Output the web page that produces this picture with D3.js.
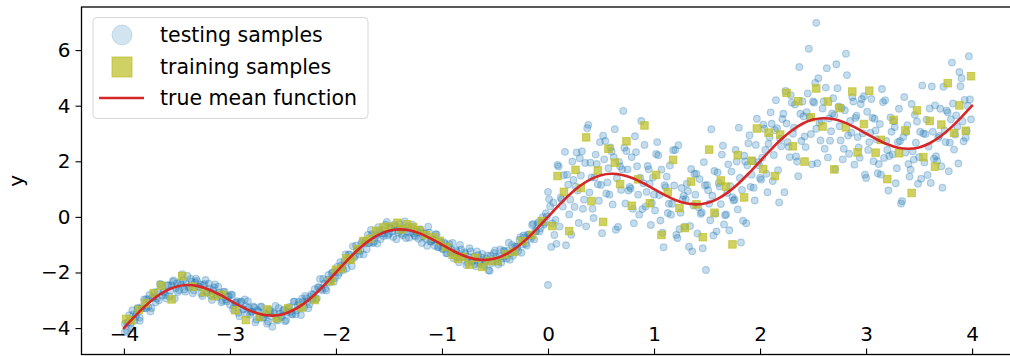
<!DOCTYPE html>
<html>
<head>
<meta charset="utf-8">
<script src="https://cdn.jsdelivr.net/npm/d3@7"></script>
<style>
  body { margin: 0; background: #fff; }
  svg { display: block; font-family: "DejaVu Sans", sans-serif; }
</style>
</head>
<body>
<div class="chart"></div>
<script>
// true mean function, every 0.1
var meanX = [-4.0,-3.9,-3.8,-3.7,-3.6,-3.5,-3.4,-3.3,-3.2,-3.1,-3.0,-2.9,-2.8,-2.7,-2.6,-2.5,-2.4,-2.3,-2.2,-2.1,
  -2.0,-1.9,-1.8,-1.7,-1.6,-1.5,-1.4,-1.3,-1.2,-1.1,-1.0,-0.9,-0.8,-0.7,-0.6,-0.5,-0.4,-0.3,-0.2,-0.1,
  0.0,0.1,0.2,0.3,0.4,0.5,0.6,0.7,0.8,0.9,1.0,1.1,1.2,1.3,1.4,1.5,1.6,1.7,1.8,1.9,
  2.0,2.1,2.2,2.3,2.4,2.5,2.6,2.7,2.8,2.9,3.0,3.1,3.2,3.3,3.4,3.5,3.6,3.7,3.8,3.9,4.0];
var meanY = [-4.00,-3.59,-3.21,-2.89,-2.65,-2.50,-2.45,-2.49,-2.61,-2.79,-3.00,-3.21,-3.39,-3.51,-3.55,-3.50,-3.35,-3.11,-2.79,-2.41,
  -2.00,-1.59,-1.21,-0.89,-0.65,-0.50,-0.45,-0.49,-0.61,-0.79,-1.00,-1.21,-1.39,-1.51,-1.55,-1.50,-1.35,-1.11,-0.79,-0.41,
  0.00,0.41,0.79,1.11,1.35,1.50,1.55,1.51,1.39,1.21,1.00,0.79,0.61,0.49,0.45,0.50,0.65,0.89,1.21,1.59,
  2.00,2.41,2.79,3.11,3.35,3.50,3.55,3.51,3.39,3.21,3.00,2.79,2.61,2.49,2.45,2.50,2.65,2.89,3.21,3.59,4.00];

// testing samples [x, y], left half (tight band)
var testingLeft = [
  [-3.99,-3.84],[-3.97,-4.09],[-3.96,-3.79],[-3.94,-3.84],[-3.92,-3.36],[-3.90,-3.74],[-3.88,-3.49],[-3.87,-3.29],[-3.85,-3.74],[-3.83,-3.24],
  [-3.81,-3.29],[-3.79,-2.96],[-3.77,-3.23],[-3.76,-2.81],[-3.74,-3.28],[-3.72,-2.88],[-3.70,-3.07],[-3.68,-2.70],[-3.66,-2.41],[-3.64,-2.83],
  [-3.62,-2.69],[-3.60,-2.94],[-3.58,-2.46],[-3.56,-2.65],[-3.54,-2.32],[-3.52,-2.94],[-3.50,-2.39],[-3.48,-2.63],[-3.46,-2.44],[-3.44,-2.28],
  [-3.42,-2.69],[-3.40,-2.12],[-3.38,-2.52],[-3.36,-2.33],[-3.34,-2.64],[-3.32,-2.22],[-3.30,-2.51],[-3.28,-2.43],[-3.26,-2.85],[-3.24,-2.41],
  [-3.22,-2.69],[-3.20,-2.40],[-3.18,-2.83],[-3.16,-2.65],[-3.14,-2.43],[-3.12,-2.88],[-3.10,-2.73],[-3.08,-3.07],[-3.06,-2.70],[-3.04,-2.97],
  [-3.02,-2.86],[-3.00,-3.16],[-2.98,-2.81],[-2.96,-3.20],[-2.94,-3.08],[-2.92,-3.45],[-2.90,-3.07],[-2.88,-3.31],[-2.86,-2.97],[-2.84,-3.50],
  [-2.82,-3.27],[-2.80,-3.41],[-2.78,-3.22],[-2.76,-3.79],[-2.74,-3.36],[-2.72,-3.62],[-2.70,-3.24],[-2.68,-3.60],[-2.66,-3.49],[-2.64,-3.76],
  [-2.62,-3.39],[-2.60,-3.95],[-2.58,-3.48],[-2.56,-3.69],[-2.54,-3.28],[-2.52,-3.56],[-2.50,-3.37],[-2.48,-3.75],[-2.46,-3.43],[-2.44,-3.24],
  [-2.42,-3.49],[-2.40,-3.05],[-2.38,-3.50],[-2.36,-3.18],[-2.34,-3.27],[-2.32,-2.94],[-2.30,-3.25],[-2.28,-2.93],[-2.26,-3.29],[-2.24,-2.87],
  [-2.22,-2.95],[-2.20,-2.60],[-2.18,-2.93],[-2.16,-2.54],[-2.14,-2.59],[-2.12,-2.23],[-2.10,-2.58],[-2.08,-2.26],[-2.06,-2.36],[-2.04,-2.02],
  [-2.02,-2.33],[-2.00,-1.96],[-1.98,-2.10],[-1.96,-1.63],[-1.94,-1.81],[-1.92,-1.58],[-1.90,-1.86],[-1.88,-1.35],[-1.86,-1.52],[-1.84,-1.06],
  [-1.82,-1.41],[-1.80,-1.18],[-1.78,-1.35],[-1.76,-0.95],[-1.74,-1.35],[-1.72,-0.89],[-1.70,-0.65],[-1.68,-0.93],[-1.66,-0.62],[-1.64,-0.89],
  [-1.62,-0.68],[-1.60,-0.37],[-1.58,-0.80],[-1.56,-0.49],[-1.54,-0.60],[-1.52,-0.18],[-1.50,-0.61],[-1.48,-0.42],[-1.46,-0.72],[-1.44,-0.33],
  [-1.42,-0.48],[-1.40,-0.25],[-1.38,-0.61],[-1.36,-0.41],[-1.34,-0.76],[-1.32,-0.37],[-1.30,-0.56],[-1.28,-0.28],[-1.26,-0.67],[-1.24,-0.52],
  [-1.22,-0.79],[-1.20,-0.45],[-1.18,-0.70],[-1.16,-0.59],[-1.14,-1.04],[-1.12,-0.57],[-1.10,-0.89],[-1.08,-0.82],[-1.06,-0.62],[-1.04,-1.09],
  [-1.02,-0.88],[-1.00,-1.14],[-0.98,-0.92],[-0.96,-1.31],[-0.94,-1.07],[-0.92,-1.26],[-0.90,-0.94],[-0.88,-1.40],[-0.86,-1.26],[-0.84,-1.63],
  [-0.82,-1.17],[-0.80,-1.44],[-0.78,-1.32],[-0.76,-1.64],[-0.74,-1.13],[-0.72,-1.61],[-0.70,-1.44],[-0.68,-1.78],[-0.66,-1.38],[-0.64,-1.57],
  [-0.62,-1.33],[-0.60,-1.72],[-0.58,-1.50],[-0.56,-1.92],[-0.54,-1.40],[-0.52,-1.60],[-0.50,-1.21],[-0.48,-1.61],[-0.46,-1.43],[-0.44,-1.64],
  [-0.42,-1.22],[-0.40,-1.41],[-0.38,-1.22],[-0.36,-1.54],[-0.34,-1.01],[-0.32,-1.26],[-0.30,-1.07],[-0.28,-1.23],[-0.26,-0.73],[-0.24,-0.99],
  [-0.22,-0.74],[-0.20,-1.03],[-0.18,-0.64],[-0.16,-0.78],[-0.14,-0.25],[-0.12,-0.51],[-0.10,-0.26],[-0.08,-0.53],[-0.06,-0.19],[-0.04,-0.28],
  [-0.02,0.13],
  [-3.99,-4.14],[-3.97,-3.81],[-3.95,-3.54],[-3.93,-4.02],[-3.91,-3.51],[-3.89,-3.59],[-3.87,-3.28],[-3.85,-3.62],[-3.83,-3.29],[-3.81,-2.97],
  [-3.79,-3.29],[-3.77,-2.96],[-3.75,-3.40],[-3.73,-2.92],[-3.71,-2.71],[-3.69,-2.94],[-3.67,-3.00],[-3.65,-2.43],[-3.63,-2.70],[-3.61,-2.81],
  [-3.59,-2.46],[-3.57,-2.86],[-3.55,-2.47],[-3.53,-2.29],[-3.51,-2.56],[-3.49,-2.70],[-3.47,-2.34],[-3.45,-2.06],[-3.43,-2.61],[-3.41,-2.41],
  [-3.39,-2.54],[-3.37,-2.23],[-3.35,-2.75],[-3.33,-2.36],[-3.31,-2.30],[-3.29,-2.52],[-3.27,-2.76],[-3.25,-2.46],[-3.23,-2.27],[-3.21,-2.73],
  [-3.19,-2.58],[-3.17,-2.99],[-3.15,-2.54],[-3.13,-2.80],[-3.11,-2.51],[-3.09,-2.81],[-3.07,-3.02],[-3.05,-2.69],[-3.03,-3.04],[-3.01,-2.84],
  [-2.99,-2.79],[-2.97,-3.32],[-2.95,-3.09],[-2.93,-3.03],[-2.91,-3.57],[-2.89,-3.04],[-2.87,-3.33],[-2.85,-3.21],[-2.83,-3.03],[-2.81,-3.52],
  [-2.79,-3.41],[-2.77,-3.26],[-2.75,-3.69],[-2.73,-3.41],[-2.71,-3.23],[-2.69,-3.64],[-2.67,-3.49],[-2.65,-3.84],[-2.63,-3.34],[-2.61,-3.58],
  [-2.59,-3.45],[-2.57,-3.20],[-2.55,-3.73],[-2.53,-3.47],[-2.51,-3.60],[-2.49,-3.33],[-2.47,-3.72],[-2.45,-3.31],[-2.43,-3.41],[-2.41,-3.51],
  [-2.39,-3.04],[-2.37,-3.36],[-2.35,-3.06],[-2.33,-3.53],[-2.31,-3.06],[-2.29,-2.84],[-2.27,-3.04],[-2.25,-3.14],[-2.23,-2.78],[-2.21,-2.79],
  [-2.19,-2.97],[-2.17,-2.53],[-2.15,-2.23],[-2.13,-2.64],[-2.11,-2.40],[-2.09,-2.65],[-2.07,-2.09],[-2.05,-2.25],[-2.03,-2.00],[-2.01,-2.20],
  [-1.99,-1.80],[-1.97,-2.00],[-1.95,-1.75],[-1.93,-1.91],[-1.91,-1.35],[-1.89,-1.60],[-1.87,-1.36],[-1.85,-1.77],[-1.83,-1.47],[-1.81,-1.03],
  [-1.79,-1.21],[-1.77,-1.22],[-1.75,-0.86],[-1.73,-0.96],[-1.71,-1.16],[-1.69,-0.94],[-1.67,-0.47],[-1.65,-0.94],[-1.63,-0.64],[-1.61,-0.96],
  [-1.59,-0.49],[-1.57,-0.59],[-1.55,-0.69],[-1.53,-0.28],[-1.51,-0.67],[-1.49,-0.40],[-1.47,-0.53],[-1.45,-0.27],[-1.43,-0.80],[-1.41,-0.55],
  [-1.39,-0.42],[-1.37,-0.66],[-1.35,-0.16],[-1.33,-0.51],[-1.31,-0.75],[-1.29,-0.38],[-1.27,-0.59],[-1.25,-0.71],[-1.23,-0.56],[-1.21,-0.45],
  [-1.19,-0.94],[-1.17,-0.60],[-1.15,-0.79],[-1.13,-0.35],[-1.11,-0.89],[-1.09,-0.83],[-1.07,-1.04],[-1.05,-0.63],[-1.03,-1.08],[-1.01,-0.90],
  [-0.99,-1.16],[-0.97,-0.96],[-0.95,-1.31],[-0.93,-0.98],[-0.91,-1.19],[-0.89,-1.49],[-0.87,-1.20],[-0.85,-1.46],[-0.83,-1.01],[-0.81,-1.42],
  [-0.79,-1.27],[-0.77,-1.73],[-0.75,-1.44],[-0.73,-1.24],[-0.71,-1.58],[-0.69,-1.70],[-0.67,-1.24],[-0.65,-1.65],[-0.63,-1.46],[-0.61,-1.77],
  [-0.59,-1.59],[-0.57,-1.39],[-0.55,-1.94],[-0.53,-1.66],[-0.51,-1.30],[-0.49,-1.44],[-0.47,-1.71],[-0.45,-1.17],[-0.43,-1.50],[-0.41,-1.23],
  [-0.39,-1.50],[-0.37,-0.93],[-0.35,-1.30],[-0.33,-1.40],[-0.31,-1.06],[-0.29,-1.09],[-0.27,-0.83],[-0.25,-1.29],[-0.23,-0.67],[-0.21,-0.97],
  [-0.19,-0.64],[-0.17,-0.71],[-0.15,-0.29],[-0.13,-0.81],[-0.11,-0.52],[-0.09,-0.19],[-0.07,-0.41],[-0.05,-0.01],[-0.03,-0.21],[-0.01,0.02]
];

// testing samples [x, y], right half (wide scatter)
var testingRight = [
  [0.01,0.64],[0.03,-1.08],[0.05,0.51],[0.07,-0.11],[0.09,1.87],[0.11,-0.35],[0.13,0.63],[0.15,1.50],[0.17,-1.02],[0.19,1.16],
  [0.21,0.62],[0.23,1.99],[0.25,0.36],[0.27,2.32],[0.29,-0.22],[0.31,1.49],[0.33,0.29],[0.35,1.94],[0.37,3.19],[0.39,0.88],
  [0.41,1.42],[0.43,-0.04],[0.45,2.24],[0.47,1.17],[0.49,2.69],[0.51,-0.59],[0.53,2.07],[0.55,0.84],[0.57,1.75],[0.59,2.50],
  [0.61,0.45],[0.63,3.15],[0.65,1.39],[0.67,1.98],[0.69,0.97],[0.71,3.81],[0.73,0.48],[0.75,1.71],[0.77,1.08],[0.79,2.15],
  [0.81,-0.23],[0.83,2.33],[0.85,0.80],[0.87,1.41],[0.89,0.28],[0.91,2.59],[0.93,0.90],[0.95,1.71],[0.97,-0.29],[0.99,1.42],
  [1.01,0.23],[1.03,2.69],[1.05,0.79],[1.07,1.70],[1.09,-1.09],[1.11,1.07],[1.13,0.14],[1.15,1.85],[1.17,0.47],[1.19,1.13],
  [1.21,-0.65],[1.23,2.58],[1.25,0.15],[1.27,0.63],[1.29,-0.35],[1.31,1.19],[1.33,-1.07],[1.35,1.72],[1.37,0.41],[1.39,0.80],
  [1.41,-0.60],[1.43,1.36],[1.45,0.16],[1.47,1.97],[1.49,-1.91],[1.51,0.96],[1.53,-0.12],[1.55,0.76],[1.57,1.65],[1.59,-0.52],
  [1.61,1.22],[1.63,0.46],[1.65,2.56],[1.67,0.06],[1.69,0.86],[1.71,-0.48],[1.73,1.63],[1.75,0.59],[1.77,2.41],[1.79,0.27],
  [1.81,1.40],[1.83,0.97],[1.85,2.20],[1.87,-0.23],[1.89,2.65],[1.91,1.08],[1.93,2.01],[1.95,0.59],[1.97,3.53],[1.99,1.86],
  [2.01,1.34],[2.03,3.32],[2.05,2.41],[2.07,0.89],[2.09,2.87],[2.11,3.35],[2.13,2.23],[2.15,4.20],[2.17,1.68],[2.19,2.81],
  [2.21,3.52],[2.23,0.89],[2.25,3.36],[2.27,2.52],[2.29,4.38],[2.31,2.99],[2.33,4.04],[2.35,1.99],[2.37,5.39],[2.39,2.73],
  [2.41,3.62],[2.43,2.51],[2.45,4.44],[2.47,3.57],[2.49,1.89],[2.51,4.11],[2.53,3.17],[2.55,4.99],[2.57,2.75],[2.59,3.90],
  [2.61,2.45],[2.63,5.35],[2.65,3.54],[2.67,3.08],[2.69,4.27],[2.71,1.71],[2.73,4.63],[2.75,3.26],[2.77,3.93],[2.79,2.45],
  [2.81,5.87],[2.83,2.93],[2.85,3.45],[2.87,4.31],[2.89,1.88],[2.91,3.64],[2.93,2.50],[2.95,4.06],[2.97,3.01],[2.99,1.52],
  [3.01,3.78],[3.03,2.69],[3.05,4.24],[3.07,2.00],[3.09,3.11],[3.11,1.57],[3.13,3.34],[3.15,4.60],[3.17,2.12],[3.19,2.73],
  [3.21,0.95],[3.23,3.58],[3.25,2.25],[3.27,3.23],[3.29,1.75],[3.31,3.89],[3.33,0.48],[3.35,2.87],[3.37,2.31],[3.39,3.30],
  [3.41,1.45],[3.43,4.06],[3.45,2.06],[3.47,2.67],[3.49,1.19],[3.51,3.06],[3.53,4.73],[3.55,1.96],[3.57,3.50],[3.59,2.53],
  [3.61,1.22],[3.63,3.06],[3.65,4.01],[3.67,2.01],[3.69,2.91],[3.71,1.82],[3.73,4.68],[3.75,2.69],[3.77,3.76],[3.79,2.67],
  [3.81,5.55],[3.83,2.42],[3.85,3.65],[3.87,1.92],[3.89,4.70],[3.91,3.43],[3.93,4.21],[3.95,3.09],[3.97,5.78],[3.99,3.51],
  [0.02,0.38],[0.06,-0.65],[0.10,1.81],[0.14,0.37],[0.18,1.52],[0.22,-0.64],[0.26,1.09],[0.30,2.11],[0.34,0.62],[0.38,3.31],
  [0.42,0.29],[0.46,1.90],[0.50,1.15],[0.54,2.73],[0.58,0.80],[0.62,2.15],[0.66,-0.36],[0.70,1.71],[0.74,2.37],[0.78,1.02],
  [0.82,2.90],[0.86,0.08],[0.90,1.21],[0.94,1.83],[0.98,0.49],[1.02,2.26],[1.06,-0.13],[1.10,1.14],[1.14,0.47],[1.18,2.40],
  [1.22,-0.76],[1.26,1.04],[1.30,0.64],[1.34,-0.33],[1.38,1.55],[1.42,0.35],[1.46,-1.13],[1.50,1.15],[1.54,3.15],[1.58,0.11],
  [1.62,1.09],[1.66,-0.27],[1.70,1.89],[1.74,0.71],[1.78,1.99],[1.82,-0.92],[1.86,1.99],[1.90,2.94],[1.94,1.05],[1.98,1.97],
  [2.02,2.13],[2.06,1.55],[2.10,3.76],[2.14,3.12],[2.18,0.52],[2.22,3.71],[2.26,2.69],[2.30,4.11],[2.34,2.17],[2.38,3.71],
  [2.42,2.89],[2.46,6.05],[2.50,4.15],[2.54,1.93],[2.58,3.45],[2.62,4.65],[2.66,2.74],[2.70,3.66],[2.74,3.97],[2.78,2.07],
  [2.82,5.10],[2.86,3.03],[2.90,3.56],[2.94,2.13],[2.98,4.34],[3.02,2.41],[3.06,3.57],[3.10,2.79],[3.14,1.52],[3.18,4.20],
  [3.22,2.19],[3.26,3.44],[3.30,2.69],[3.34,0.57],[3.38,3.05],[3.42,1.70],[3.46,3.67],[3.50,2.15],[3.54,3.00],[3.58,1.51],
  [3.62,4.69],[3.66,2.18],[3.70,3.89],[3.74,3.11],[3.78,1.64],[3.82,4.08],[3.86,3.24],[3.90,4.99],[3.94,2.85],[3.98,4.22],
  [0.00,0.90],[0.04,-0.23],[0.08,-0.97],[0.12,0.69],[0.16,2.34],[0.20,0.09],[0.24,1.33],[0.28,0.95],[0.32,2.36],[0.36,-0.34],
  [0.40,1.95],[0.44,1.42],[0.48,0.58],[0.52,2.92],[0.56,1.24],[0.60,2.35],[0.64,-0.46],[0.68,1.82],[0.72,2.49],[0.76,0.95],
  [0.80,0.29],[0.84,1.82],[0.88,3.45],[0.92,0.37],[0.96,1.19],[1.00,0.80],[1.04,2.22],[1.08,-0.57],[1.12,1.45],[1.16,0.08],
  [1.20,2.41],[1.24,-0.44],[1.28,0.76],[1.32,0.93],[1.36,-1.24],[1.40,1.55],[1.44,0.11],[1.48,1.13],[1.52,0.47],[1.56,-0.67],
  [1.60,1.60],[1.64,2.24],[1.68,0.09],[1.72,1.10],[1.76,0.63],[1.80,3.21],[1.84,-0.14],[1.88,1.86],[1.92,1.52],[1.96,2.59],
  [2.00,1.40],[2.04,3.17],[2.08,2.63],[2.12,1.29],[2.16,3.19],[2.20,2.54],[2.24,4.53],[2.28,2.15],[2.32,3.21],[2.36,1.46],
  [2.40,4.15],[2.44,3.77],[2.48,2.98],[2.52,4.82],[2.56,3.39],[2.60,4.15],[2.64,2.14],[2.68,3.72],[2.72,5.49],[2.76,2.75],
  [2.80,3.84],[2.84,2.27],[2.88,4.15],[2.92,2.87],[2.96,4.24],[3.00,1.40],[3.04,3.02],[3.08,3.53],[3.12,1.90],[3.16,4.13],
  [3.20,2.41],[3.24,3.06],[3.28,1.21],[3.32,2.73],[3.36,4.31],[3.40,1.90],[3.44,2.36],[3.48,3.43],[3.52,1.37],[3.56,2.98],
  [3.60,3.90],[3.64,2.09],[3.68,2.84],[3.72,1.05],[3.76,3.83],[3.80,3.51],[3.84,2.96],[3.88,5.21],[3.92,2.72],[3.96,3.99],
  [0.00,-2.45],[2.53,6.98]
];

// training samples [x, y]
var trainingSamples = [
  [-3.98,-3.67],[-3.93,-3.72],[-3.86,-3.34],[-3.80,-3.11],[-3.72,-2.75],[-3.65,-2.47],[-3.55,-2.97],[-3.45,-2.13],[-3.35,-2.51],[-3.24,-2.71],
  [-3.15,-2.85],[-3.07,-2.80],[-2.95,-3.36],[-2.85,-3.71],[-2.72,-3.59],[-2.65,-3.33],[-2.56,-3.64],[-2.45,-3.29],[-2.32,-3.26],[-2.20,-2.99],
  [-2.05,-2.31],[-2.00,-1.90],[-1.95,-1.85],[-1.90,-1.49],[-1.86,-1.54],[-1.80,-1.16],[-1.74,-0.87],[-1.68,-0.79],[-1.62,-0.50],[-1.55,-0.37],
  [-1.49,-0.35],[-1.42,-0.21],[-1.38,-0.45],[-1.33,-0.27],[-1.27,-0.37],[-1.22,-0.48],[-1.15,-0.65],[-1.08,-0.73],[-1.02,-0.86],[-0.96,-1.08],
  [-0.90,-1.36],[-0.85,-1.51],[-0.80,-1.44],[-0.74,-1.72],[-0.68,-1.47],[-0.62,-1.80],[-0.56,-1.59],[-0.48,-1.58],[-0.40,-1.35],[-0.32,-1.26],
  [-0.24,-0.87],[-0.15,-0.65],[-0.06,-0.15],
  [0.04,-0.33],[0.09,1.47],[0.15,0.90],[0.20,-0.51],[0.26,1.69],[0.31,1.04],[0.36,2.86],[0.41,0.57],[0.47,1.67],[0.52,-0.18],
  [0.57,2.45],[0.63,1.95],[0.68,1.18],[0.74,2.72],[0.79,0.40],[0.85,1.35],[0.91,3.29],[0.96,0.49],[1.02,1.51],[1.07,-0.65],
  [1.13,0.89],[1.18,2.05],[1.24,0.32],[1.29,-0.40],[1.35,1.27],[1.40,0.45],[1.46,-0.73],[1.52,2.42],[1.57,0.15],[1.63,1.31],
  [1.68,1.09],[1.74,-0.99],[1.79,2.22],[1.85,0.70],[1.92,2.02],[1.97,3.18],[2.03,1.72],[2.08,3.03],[2.14,1.47],[2.19,2.96],
  [2.25,4.46],[2.31,2.54],[2.36,4.16],[2.42,1.99],[2.48,3.58],[2.53,4.62],[2.59,3.25],[2.64,4.15],[2.70,1.71],[2.75,3.91],
  [2.81,3.22],[2.87,4.51],[2.92,2.32],[2.98,3.34],[3.03,4.54],[3.09,2.31],[3.14,2.77],[3.20,1.36],[3.26,3.49],[3.31,2.29],
  [3.37,3.11],[3.43,0.86],[3.48,3.83],[3.54,2.15],[3.60,3.45],[3.65,1.81],[3.71,3.32],[3.77,4.81],[3.83,3.02],[3.88,4.01],
  [3.94,3.10],[3.99,5.06]
];

var testingSamples = testingLeft.concat(testingRight);

var xTicks = [-4, -3, -2, -1, 0, 1, 2, 3, 4];
var yTicks = [-4, -2, 0, 2, 4, 6];
var legendLabels = ["testing samples", "training samples", "true mean function"];

var width = 1010, height = 356;
var plotL = 81.5, plotR = 1014.5, plotT = 7, plotB = 354.5;

var svg = d3.select(".chart").append("svg")
  .attr("width", width)
  .attr("height", height);

var x = d3.scaleLinear().domain([-4.4, 4.4]).range([plotL, plotR]);
var y = d3.scaleLinear().domain([-4.95, 7.55]).range([plotB, plotT]);

svg.append("clipPath").attr("id", "plot-clip")
  .append("rect")
  .attr("x", plotL).attr("y", plotT)
  .attr("width", plotR - plotL).attr("height", plotB - plotT);

var plot = svg.append("g").attr("clip-path", "url(#plot-clip)");

// fewer points than the original, so a touch more opacity to keep the density
plot.selectAll("circle.test")
  .data(testingSamples)
  .enter()
  .append("circle")
  .attr("class", "test")
  .attr("cx", d => x(d[0]))
  .attr("cy", d => y(d[1]))
  .attr("r", 3.4)
  .attr("fill", "#1f77b4")
  .attr("fill-opacity", 0.26)
  .attr("stroke", "#1f77b4")
  .attr("stroke-opacity", 0.3)
  .attr("stroke-width", 1.1);

var sq = 7.5;
plot.selectAll("rect.train")
  .data(trainingSamples)
  .enter()
  .append("rect")
  .attr("class", "train")
  .attr("x", d => x(d[0]) - sq / 2)
  .attr("y", d => y(d[1]) - sq / 2)
  .attr("width", sq)
  .attr("height", sq)
  .attr("fill", "#bcbd22")
  .attr("fill-opacity", 0.7)
  .attr("stroke", "#bcbd22")
  .attr("stroke-opacity", 0.7)
  .attr("stroke-width", 1);

var meanData = meanX.map((v, i) => [v, meanY[i]]);
plot.append("path")
  .datum(meanData)
  .attr("fill", "none")
  .attr("stroke", "#d62728")
  .attr("stroke-width", 2.6)
  .attr("stroke-linejoin", "round")
  .attr("stroke-linecap", "round")
  .attr("d", d3.line()
    .curve(d3.curveCatmullRom)
    .x(d => x(d[0]))
    .y(d => y(d[1]))
  );

// axes
var fmt = d => d < 0 ? "\u2212" + Math.abs(d) : String(d);

var yAxis = g => g
  .attr("transform", `translate(${plotL},0)`)
  .call(d3.axisLeft(y).tickValues(yTicks).tickFormat(fmt).tickSize(6).tickPadding(5).tickSizeOuter(0))
  .call(g => g.select(".domain").remove());

var xAxis = g => g
  .attr("transform", `translate(0,${plotB})`)
  .call(d3.axisBottom(x).tickValues(xTicks).tickFormat(fmt).tickSizeOuter(0))
  .call(g => g.select(".domain").remove())
  .call(g => g.selectAll(".tick line").attr("y1", 0).attr("y2", -6))
  .call(g => g.selectAll(".tick text").attr("y", -14).attr("dy", 0));

svg.append("g").call(yAxis);
svg.append("g").call(xAxis);

svg.selectAll(".tick line").attr("stroke", "#000").attr("stroke-width", 1.1);
svg.selectAll(".tick text")
  .attr("fill", "#000")
  .style("font-size", "20px")
  .style("font-family", "DejaVu Sans");

// spines
svg.append("rect")
  .attr("x", plotL).attr("y", plotT)
  .attr("width", plotR - plotL).attr("height", plotB - plotT)
  .attr("fill", "none")
  .attr("stroke", "#000")
  .attr("stroke-width", 1.3);

svg.append("text")
  .attr("transform", `translate(23,${(plotT + plotB) / 2}) rotate(-90)`)
  .attr("text-anchor", "middle")
  .style("font-size", "20px")
  .text("y");

// legend
var legend = svg.append("g");
legend.append("rect")
  .attr("x", 93).attr("y", 17.5)
  .attr("width", 275).attr("height", 101)
  .attr("rx", 4)
  .attr("fill", "#fff")
  .attr("fill-opacity", 0.8)
  .attr("stroke", "#d6d6d6")
  .attr("stroke-width", 1);

var rowY = [35, 67, 98];
legend.append("circle")
  .attr("cx", 122).attr("cy", rowY[0]).attr("r", 10)
  .attr("fill", "#1f77b4").attr("fill-opacity", 0.2)
  .attr("stroke", "#1f77b4").attr("stroke-opacity", 0.2).attr("stroke-width", 1);
legend.append("rect")
  .attr("x", 112).attr("y", rowY[1] - 10).attr("width", 20).attr("height", 20)
  .attr("fill", "#bcbd22").attr("fill-opacity", 0.7)
  .attr("stroke", "#bcbd22").attr("stroke-opacity", 0.7).attr("stroke-width", 1);
legend.append("line")
  .attr("x1", 99).attr("x2", 144).attr("y1", rowY[2]).attr("y2", rowY[2])
  .attr("stroke", "#d62728").attr("stroke-width", 2.6);

legend.selectAll("text.lab")
  .data(legendLabels)
  .enter()
  .append("text")
  .attr("class", "lab")
  .attr("x", 160)
  .attr("y", (d, i) => rowY[i])
  .attr("dy", "0.35em")
  .style("font-size", "20.5px")
  .text(d => d);
</script>
</body>
</html>
